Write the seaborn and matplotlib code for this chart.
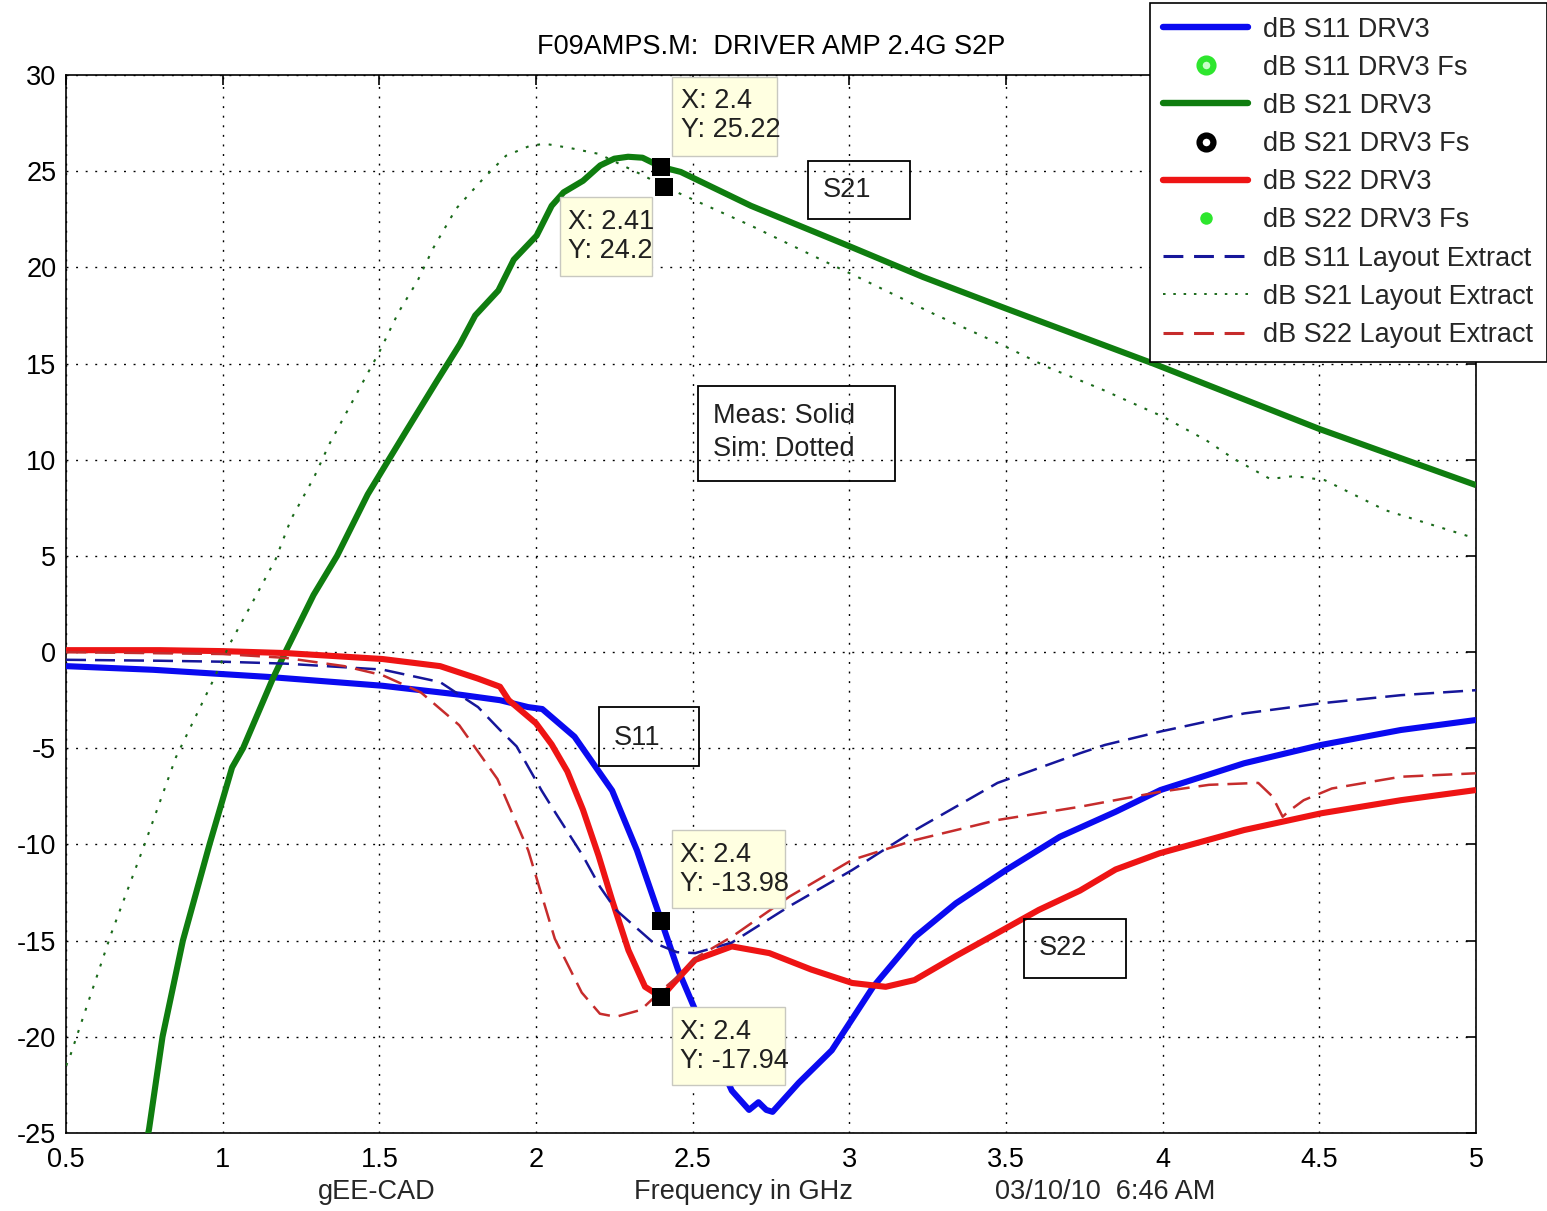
import numpy as np
import pandas as pd
import matplotlib
matplotlib.use("Agg")
import matplotlib.pyplot as plt
import seaborn as sns
from matplotlib.lines import Line2D
from matplotlib.patches import Rectangle

# ---------------- data ----------------
s21_meas_f = [0.75, 0.765, 0.808, 0.873, 0.958, 1.03, 1.065, 1.16, 1.20, 1.29, 1.365, 1.463, 1.53,
              1.586, 1.684, 1.757, 1.806, 1.88, 1.929, 2.002, 2.05, 2.088, 2.15, 2.205, 2.25, 2.294,
              2.34, 2.40, 2.462, 2.686, 3.0, 3.235, 3.5, 3.97, 4.5, 5.0]
s21_meas_db = [-26.0, -24.8, -20.0, -15.0, -10.0, -6.0, -5.0, -1.38, 0.0, 2.97, 5.0, 8.2, 10.0,
               11.5, 14.1, 16.0, 17.5, 18.8, 20.4, 21.65, 23.2, 23.9, 24.5, 25.3, 25.65, 25.75,
               25.7, 25.22, 24.96, 23.2, 21.1, 19.5, 17.86, 15.0, 11.6, 8.68]

s21_sim_f = [0.5, 0.509, 0.644, 0.753, 0.851, 0.967, 1.022, 1.089, 1.169, 1.218, 1.292, 1.34, 1.39,
             1.463, 1.5, 1.561, 1.622, 1.672, 1.745, 1.831, 1.904, 1.978, 2.027, 2.11, 2.2, 2.34,
             2.41, 2.495, 2.686, 2.91, 3.034, 3.267, 3.5, 3.63, 3.80, 4.002, 4.14, 4.225, 4.343,
             4.42, 4.517, 4.71, 5.0]
s21_sim_db = [-21.5, -21.2, -14.65, -9.9, -5.46, -1.56, 0.4, 2.4, 4.83, 6.9, 9.1, 10.8, 12.3,
              14.5, 15.6, 17.66, 19.3, 21.0, 23.05, 24.6, 25.8, 26.3, 26.43, 26.2, 25.9, 24.8,
              24.2, 23.57, 22.17, 20.4, 19.44, 17.6, 15.87, 14.83, 13.7, 12.23, 11.0, 10.07, 9.0,
              9.15, 8.94, 7.38, 5.9]

s11_meas_f = [0.5, 0.778, 1.145, 1.51, 1.755, 1.885, 1.975, 2.02, 2.123, 2.243, 2.322, 2.40,
              2.453, 2.508, 2.625, 2.68, 2.71, 2.735, 2.755, 2.838, 2.944, 3.076, 3.21, 3.34,
              3.5, 3.672, 3.85, 3.993, 4.26, 4.505, 4.76, 5.0]
s11_meas_db = [-0.73, -0.92, -1.29, -1.75, -2.21, -2.5, -2.86, -2.96, -4.4, -7.2, -10.3, -13.98,
               -16.5, -18.6, -22.8, -23.8, -23.4, -23.8, -23.9, -22.4, -20.7, -17.4, -14.8, -13.06,
               -11.33, -9.6, -8.3, -7.17, -5.78, -4.83, -4.05, -3.53]

s22_meas_f = [0.5, 0.8, 1.0, 1.2, 1.51, 1.694, 1.815, 1.885, 1.913, 2.0, 2.05, 2.1, 2.15, 2.2,
              2.243, 2.295, 2.348, 2.40, 2.44, 2.508, 2.625, 2.745, 2.878, 3.009, 3.116, 3.208,
              3.34, 3.473, 3.605, 3.736, 3.85, 3.99, 4.26, 4.506, 4.76, 5.0]
s22_meas_db = [0.1, 0.1, 0.05, -0.05, -0.36, -0.73, -1.38, -1.8, -2.5, -3.7, -4.8, -6.2, -8.2, -10.6,
               -12.9, -15.5, -17.4, -17.94, -17.2, -16.0, -15.3, -15.65, -16.5, -17.2, -17.4, -17.05,
               -15.8, -14.6, -13.4, -12.4, -11.3, -10.46, -9.25, -8.38, -7.7, -7.17]

s11_sim_f = [0.5, 0.8, 1.0, 1.2, 1.51, 1.694, 1.815, 1.885, 1.938, 2.018, 2.06, 2.15, 2.204, 2.255,
             2.374, 2.45, 2.508, 2.625, 2.81, 3.009, 3.21, 3.473, 3.736, 3.815, 3.99, 4.26, 4.506,
             4.76, 5.0]
s11_sim_db = [-0.4, -0.45, -0.5, -0.6, -0.91, -1.56, -2.86, -4.05, -4.9, -7.2, -8.3, -10.6, -12.2,
              -13.4, -15.1, -15.6, -15.65, -15.1, -13.2, -11.33, -9.25, -6.8, -5.26, -4.83, -4.14,
              -3.19, -2.66, -2.24, -1.98]

s22_sim_f = [0.5, 1.0, 1.2, 1.388, 1.51, 1.633, 1.755, 1.877, 1.975, 2.06, 2.146, 2.204, 2.255,
             2.335, 2.40, 2.45, 2.52, 2.625, 2.81, 3.009, 3.21, 3.473, 3.736, 3.993, 4.148, 4.305,
             4.35, 4.383, 4.40, 4.45, 4.54, 4.76, 5.0]
s22_sim_db = [0.0, -0.1, -0.3, -0.73, -1.2, -2.1, -3.8, -6.6, -10.3, -14.9, -17.7, -18.8, -18.96,
              -18.6, -17.6, -16.9, -15.8, -14.8, -12.7, -10.8, -9.77, -8.73, -8.04, -7.26, -6.9, -6.8,
              -7.5, -8.56, -8.3, -7.7, -7.09, -6.48, -6.3]

tip_f = [2.4, 2.41, 2.4, 2.4]
tip_db = [25.22, 24.2, -13.98, -17.94]
tip_labels = ["X: 2.4\nY: 25.22", "X: 2.41\nY: 24.2", "X: 2.4\nY: -13.98", "X: 2.4\nY: -17.94"]

legend_labels = ["dB S11 DRV3", "dB S11 DRV3 Fs", "dB S21 DRV3", "dB S21 DRV3 Fs",
                 "dB S22 DRV3", "dB S22 DRV3 Fs", "dB S11 Layout Extract",
                 "dB S21 Layout Extract", "dB S22 Layout Extract"]

x_ticks = [0.5, 1, 1.5, 2, 2.5, 3, 3.5, 4, 4.5, 5]
x_ticklabels = ["0.5", "1", "1.5", "2", "2.5", "3", "3.5", "4", "4.5", "5"]
y_ticks = [-25, -20, -15, -10, -5, 0, 5, 10, 15, 20, 25, 30]

# ---------------- style ----------------
sns.set_theme(style="white")
plt.rcParams['font.family'] = ['Liberation Sans', 'DejaVu Sans']
plt.rcParams['axes.unicode_minus'] = False
FS = 19.5

C_BLUE = '#0a0af0'
C_GREEN = '#0f7d0f'
C_RED = '#ee1414'
C_BLUE_D = '#16169a'
C_GREEN_D = '#1a6a1a'
C_RED_D = '#c62c2c'
C_LIME = '#2ee62e'

W, H = 1547, 1211
fig = plt.figure(figsize=(W / 100, H / 100), dpi=100)
fig.patch.set_facecolor('white')
ax = fig.add_axes([66 / W, 1 - 1133 / H, (1476 - 66) / W, (1133 - 75) / H])
ax.set_facecolor('white')

LW_THICK = 4.4
dash_style = (0, (8.0, 3.6))
dot_style = (0, (1.4, 4.2))


def draw(f, db, color, lw, ls, z):
    sns.lineplot(x=f, y=db, ax=ax, color=color, linewidth=lw, estimator=None,
                 sort=False, legend=False, zorder=z)
    ln = ax.lines[-1]
    ln.set_linestyle(ls)
    ln.set_solid_capstyle('butt')
    ln.set_dash_capstyle('butt')
    ln.set_solid_joinstyle('round')
    return ln


draw(s11_meas_f, s11_meas_db, C_BLUE, LW_THICK, '-', 3)
draw(s21_meas_f, s21_meas_db, C_GREEN, LW_THICK, '-', 3)
draw(s22_meas_f, s22_meas_db, C_RED, LW_THICK, '-', 3)
draw(s11_sim_f, s11_sim_db, C_BLUE_D, 1.8, dash_style, 4)
draw(s21_sim_f, s21_sim_db, C_GREEN_D, 1.5, dot_style, 4)
draw(s22_sim_f, s22_sim_db, C_RED_D, 1.8, dash_style, 4)

sns.scatterplot(x=tip_f, y=tip_db, ax=ax, marker='s', s=150, color='black',
                edgecolor='black', linewidth=0, zorder=8, legend=False)

# axes
ax.set_xlim(0.5, 5)
ax.set_ylim(-25, 30)
ax.set_xticks(x_ticks)
ax.set_xticklabels(x_ticklabels)
ax.set_yticks(y_ticks)
ax.grid(True, color='black', linestyle=(0, (1.4, 5.5)), linewidth=1.0)
for sp in ax.spines.values():
    sp.set_visible(True)
    sp.set_color('black')
    sp.set_linewidth(1.2)
ax.tick_params(direction='in', length=7, width=1.2, top=True, right=True,
               labelsize=FS, colors='black')
ax.tick_params(axis='x', pad=10)
ax.tick_params(axis='y', pad=7)
ax.set_xlabel("")
ax.set_ylabel("")
ax.set_title("F09AMPS.M:  DRIVER AMP 2.4G S2P", fontsize=FS, pad=15, color='black')

# bottom texts
fig.text(377 / W, 1 - 1192 / H, "gEE-CAD", ha='center', va='center', fontsize=FS)
fig.text(743 / W, 1 - 1192 / H, "Frequency in GHz", ha='center', va='center', fontsize=FS)
fig.text(1105 / W, 1 - 1192 / H, "03/10/10  6:46 AM", ha='center', va='center', fontsize=FS)

# data tip boxes (x0, x1, y0, y1, text x, text y-center)
tip_boxes = [
    (2.434, 2.769, 25.78, 29.89, 2.463, 27.89),
    (2.075, 2.370, 19.54, 23.65, 2.102, 21.60),
    (2.434, 2.795, -13.31, -9.25, 2.460, -11.30),
    (2.434, 2.795, -22.50, -18.45, 2.460, -20.48),
]
for (x0, x1, y0, y1, tx, ty), lab in zip(tip_boxes, tip_labels):
    ax.add_patch(Rectangle((x0, y0), x1 - x0, y1 - y0, facecolor='#ffffe1',
                           edgecolor='#c8c8c0', linewidth=1.0, zorder=9))
    ax.text(tx, ty, lab, ha='left', va='center', fontsize=FS, color='#202020',
            linespacing=1.15, zorder=10)

# annotation text boxes (transparent)
note_boxes = [
    (2.868, 3.194, 22.50, 25.52, 2.916, 24.00, "S21"),
    (2.518, 3.145, 8.89, 13.84, 2.565, 11.40, "Meas: Solid\nSim: Dotted"),
    (2.200, 2.520, -5.93, -2.86, 2.249, -4.47, "S11"),
    (3.559, 3.883, -16.94, -13.88, 3.606, -15.40, "S22"),
]
for x0, x1, y0, y1, tx, ty, lab in note_boxes:
    ax.add_patch(Rectangle((x0, y0), x1 - x0, y1 - y0, facecolor='none',
                           edgecolor='black', linewidth=1.3, zorder=9))
    ax.text(tx, ty, lab, ha='left', va='center', fontsize=FS, color='#202020',
            linespacing=1.35, zorder=10)

# legend
handles = [
    Line2D([], [], color=C_BLUE, lw=4.6),
    Line2D([], [], ls='none', marker='o', markersize=10, markeredgewidth=4.5,
           markeredgecolor=C_LIME, markerfacecolor='#c8ffc8'),
    Line2D([], [], color=C_GREEN, lw=4.6),
    Line2D([], [], ls='none', marker='o', markersize=10, markeredgewidth=4.5,
           markeredgecolor='black', markerfacecolor='white'),
    Line2D([], [], color=C_RED, lw=4.6),
    Line2D([], [], ls='none', marker='o', markersize=9, markeredgewidth=0,
           markerfacecolor=C_LIME),
    Line2D([], [], color=C_BLUE_D, lw=2.2, ls=(0, (6.5, 3.5))),
    Line2D([], [], color=C_GREEN_D, lw=1.4, ls=(0, (1.3, 4.0))),
    Line2D([], [], color=C_RED_D, lw=2.2, ls=(0, (6.5, 3.5))),
]
leg = ax.legend(handles, legend_labels, loc='upper right',
                bbox_to_anchor=(1.0, 1 - 3 / H), bbox_transform=fig.transFigure,
                frameon=True, fancybox=False, framealpha=1, edgecolor='black',
                borderaxespad=0, fontsize=FS, handlelength=3.15, handletextpad=0.55,
                labelspacing=0.45, borderpad=0.5)
leg.get_frame().set_linewidth(1.2)
leg.set_zorder(20)

fig.savefig("out.png", dpi=100, facecolor='white')
